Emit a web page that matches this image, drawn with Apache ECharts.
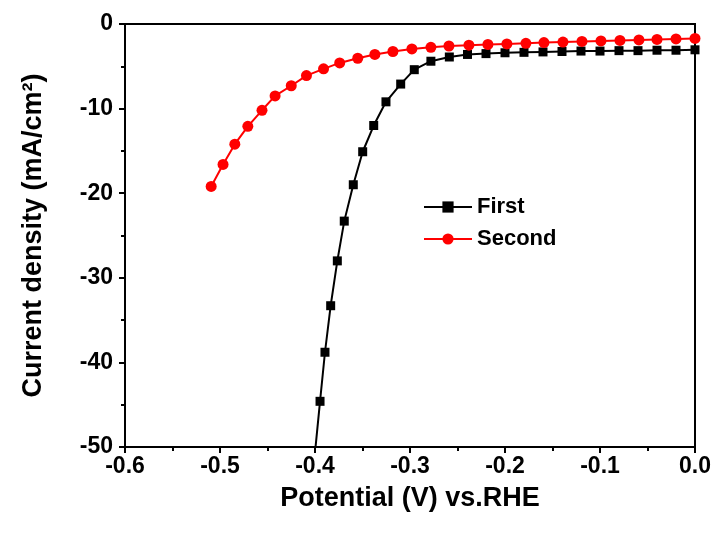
<!DOCTYPE html>
<html><head><meta charset="utf-8">
<script src="https://cdn.jsdelivr.net/npm/echarts@6/dist/echarts.min.js"></script>
<style>html,body{margin:0;padding:0;background:#fff}#c{width:716px;height:533px}</style>
</head><body><div id="c"></div>
<script>
const seriesNames = ['First', 'Second'];
const firstV = [-0.4003, -0.3947, -0.3895, -0.3835, -0.3765, -0.3692, -0.3597, -0.3498, -0.3382, -0.3253, -0.3098, -0.2955, -0.278, -0.2586, -0.2395, -0.22, -0.20, -0.18, -0.16, -0.14, -0.12, -0.10, -0.08, -0.06, -0.04, -0.02, 0.0];
const firstJ = [-51, -44.6, -38.8, -33.3, -28.0, -23.3, -19.0, -15.1, -12.0, -9.2, -7.1, -5.4, -4.4, -3.9, -3.6, -3.5, -3.4, -3.35, -3.3, -3.25, -3.2, -3.2, -3.15, -3.15, -3.1, -3.1, -3.05];
const secondV = [-0.5093, -0.4968, -0.4844, -0.4707, -0.4558, -0.442, -0.425, -0.409, -0.391, -0.374, -0.355, -0.337, -0.318, -0.298, -0.278, -0.259, -0.238, -0.218, -0.198, -0.178, -0.159, -0.139, -0.119, -0.099, -0.079, -0.059, -0.040, -0.020, 0.0];
const secondJ = [-19.2, -16.6, -14.2, -12.1, -10.2, -8.5, -7.3, -6.1, -5.3, -4.6, -4.05, -3.6, -3.25, -2.95, -2.75, -2.6, -2.5, -2.42, -2.35, -2.28, -2.2, -2.13, -2.06, -2.0, -1.94, -1.88, -1.82, -1.76, -1.7];
const xTickLabels = ['-0.6', '-0.5', '-0.4', '-0.3', '-0.2', '-0.1', '0.0'];
const yTickLabels = ['-50', '-40', '-30', '-20', '-10', '0'];

const FONT = 'Liberation Sans, Arial, sans-serif';
const firstData = firstV.map((v, i) => {
  const item = { value: [v, firstJ[i]] };
  if (firstJ[i] < -50) item.symbol = 'none';
  return item;
});
const secondData = secondV.map((v, i) => [v, secondJ[i]]);

const chart = echarts.init(document.getElementById('c'), null, { renderer: 'canvas' });
const axisCommon = {
  axisLine: { show: true, onZero: false, lineStyle: { color: '#000', width: 2 } },
  axisTick: { show: true, inside: false, length: 6, lineStyle: { color: '#000', width: 2 } },
  minorTick: { show: true, splitNumber: 2, length: 4, lineStyle: { color: '#000', width: 2 } },
  splitLine: { show: false },
  minorSplitLine: { show: false }
};
chart.setOption({
  animation: false,
  backgroundColor: '#fff',
  grid: { left: 125, right: 21, top: 24, bottom: 86, show: true, borderColor: '#000', borderWidth: 2, backgroundColor: 'transparent' },
  legend: {
    data: seriesNames,
    orient: 'vertical',
    left: 418, top: 191,
    itemWidth: 48, itemHeight: 14, itemGap: 10,
    textStyle: { fontFamily: FONT, fontSize: 22, fontWeight: 'bold', color: '#000' }
  },
  xAxis: Object.assign({
    type: 'value', min: -0.6, max: 0, interval: 0.1,
    name: 'Potential (V) vs.RHE', nameLocation: 'middle', nameGap: 38,
    nameTextStyle: { fontFamily: FONT, fontSize: 27, fontWeight: 'bold', color: '#000' },
    axisLabel: { fontFamily: FONT, fontSize: 23, fontWeight: 'bold', color: '#000', margin: 8,
      formatter: v => xTickLabels[Math.round((v + 0.6) / 0.1)] }
  }, axisCommon),
  yAxis: Object.assign({
    type: 'value', min: -50, max: 0, interval: 10,
    name: 'Current density (mA/cm²)', nameLocation: 'middle', nameGap: 78,
    nameTextStyle: { fontFamily: FONT, fontSize: 27, fontWeight: 'bold', color: '#000' },
    axisLabel: { fontFamily: FONT, fontSize: 23, fontWeight: 'bold', color: '#000', margin: 12,
      formatter: v => yTickLabels[Math.round((v + 50) / 10)] }
  }, axisCommon),
  series: [
    { name: seriesNames[0], type: 'line', data: firstData, symbol: 'rect', symbolSize: 9,
      itemStyle: { color: '#000' }, lineStyle: { color: '#000', width: 2 }, clip: true, z: 2 },
    { name: seriesNames[1], type: 'line', data: secondData, symbol: 'circle', symbolSize: 11,
      itemStyle: { color: '#ff0000' }, lineStyle: { color: '#ff0000', width: 2 }, clip: true, z: 3 }
  ]
});
</script>
</body></html>
